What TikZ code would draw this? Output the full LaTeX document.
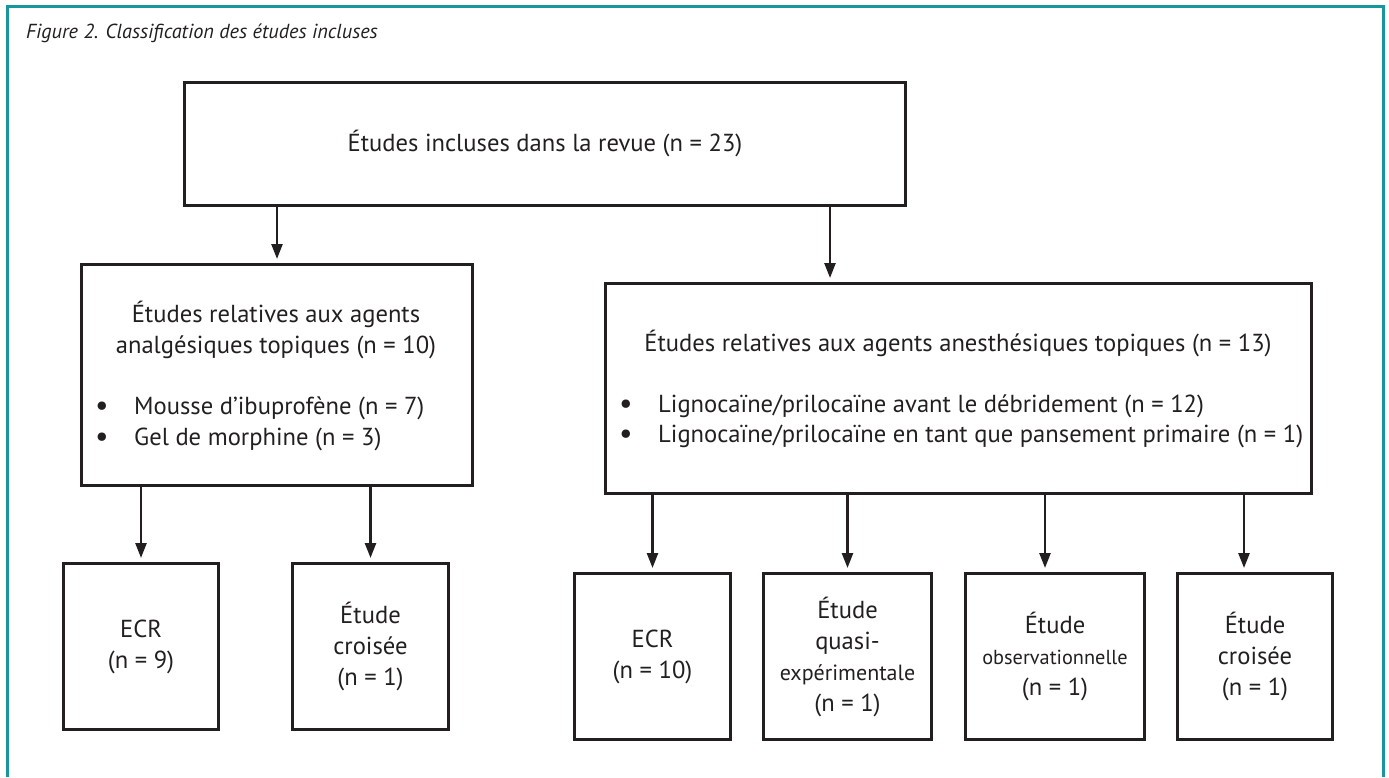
\documentclass[tikz,border=0pt]{standalone}
\usepackage{fontspec}
\setmainfont{PT Sans}
\usetikzlibrary{arrows.meta}
\definecolor{framecol}{RGB}{24,150,160}
\definecolor{ink}{RGB}{35,31,32}
\begin{document}
\begin{tikzpicture}[x=1pt,y=-1pt,
  box/.style={draw=ink,line width=3pt,inner sep=0pt,anchor=north west,align=center,
    font=\fontsize{24.6}{31}\selectfont,text=ink},
  arr/.style={draw=ink,line width=2.5pt,-{Triangle[length=15pt,width=11pt]},shorten >=4pt},
  txt/.style={inner sep=0pt,font=\fontsize{24.6}{31}\selectfont,text=ink},
  bul/.style={inner sep=0pt,font=\fontsize{30}{31}\selectfont,text=ink}]
\useasboundingbox (0,0) rectangle (1389,777);
\draw[framecol,line width=3pt] (7,777) -- (7,6) -- (1383,6) -- (1383,777);
\node[anchor=base west,inner sep=0pt,text=ink,font=\itshape\fontsize{20.3}{24}\selectfont] (title) at (26,38) {Figure 2. Classification des études incluses};
% boxes
\node[box,minimum width=721pt,minimum height=123pt] (top) at (183,81) {Études incluses dans la revue (n = 23)};
\node[box,minimum width=391pt,minimum height=221pt] (left) at (80,263) {};
\node[box,minimum width=706pt,minimum height=210pt] (right) at (604,282) {};
\node[box,minimum width=155pt,minimum height=166pt] (L1) at (62,562) {ECR\\(n = 9)};
\node[box,minimum width=156pt,minimum height=166pt] (L2) at (291,562) {Étude\\croisée\\(n = 1)};
\node[box,minimum width=156pt,minimum height=166pt] (R1) at (573,572) {ECR\\(n = 10)};
\node[box,minimum width=168pt,minimum height=166pt] (R2) at (762,572) {Étude\\quasi-\\{\fontsize{22}{31}\selectfont expérimentale}\\(n = 1)};
\node[box,minimum width=179pt,minimum height=166pt] (R3) at (964,572) {Étude\\{\fontsize{20.3}{31}\selectfont observationnelle}\\(n = 1)};
\node[box,minimum width=155pt,minimum height=166pt] (R4) at (1176,572) {Étude\\croisée\\(n = 1)};
% left box text
\node[txt,anchor=base] (lh1) at (276,322) {Études relatives aux agents};
\node[txt,anchor=base] (lh2) at (276,353) {analgésiques topiques (n = 10)};
\node[bul,anchor=base] (lb1) at (102,415) {•};
\node[bul,anchor=base] (lb2) at (102,446) {•};
\node[txt,anchor=base west] (lt1) at (134,414) {Mousse d’ibuprofène (n = 7)};
\node[txt,anchor=base west] (lt2) at (134,445) {Gel de morphine (n = 3)};
% right box text
\node[txt,anchor=base] (rh) at (958,351) {Études relatives aux agents anesthésiques topiques (n = 13)};
\node[bul,anchor=base] (rb1) at (626,413) {•};
\node[bul,anchor=base] (rb2) at (626,443) {•};
\node[txt,anchor=base west] (rt1) at (658,412) {Lignocaïne/prilocaïne avant le débridement (n = 12)};
\node[txt,anchor=base west] (rt2) at (658,442) {Lignocaïne/prilocaïne en tant que pansement primaire (n = 1)};
% arrow x positions
\coordinate (xa) at (830,0);
\coordinate (xb) at (1045,0);
\coordinate (xc) at (1244,0);
% arrows
\draw[arr] (top.south -| left.north) -- (left.north);
\draw[arr] (top.south -| xa) -- (right.north -| xa);
\draw[arr] (left.south -| L1.north) -- (L1.north);
\draw[arr] (left.south -| L2.north) -- (L2.north);
\draw[arr] (right.south -| R1.north) -- (R1.north);
\draw[arr] (right.south -| R2.north) -- (R2.north);
\draw[arr] (right.south -| xb) -- (R3.north -| xb);
\draw[arr] (right.south -| xc) -- (R4.north -| xc);
\end{tikzpicture}
\end{document}
